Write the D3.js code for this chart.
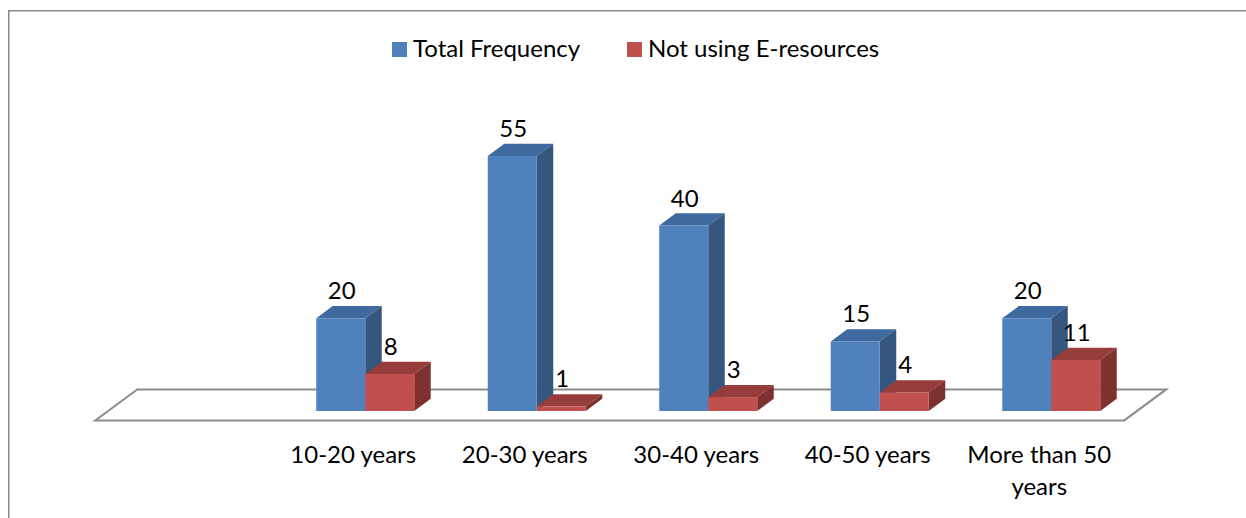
<!DOCTYPE html>
<html>
<head>
<meta charset="utf-8">
<script src="https://cdn.jsdelivr.net/npm/d3@7"></script>
<style>
  body { margin: 0; background: #fff; }
  text { font-family: Lato, "Noto Sans", sans-serif; fill: #000; }
</style>
</head>
<body>
<div id="chart"></div>
<script>
// data
var categories = ["10-20 years", "20-30 years", "30-40 years", "40-50 years", "More than 50 years"];
var seriesNames = ["Total Frequency", "Not using E-resources"];
var totalFrequency = [20, 55, 40, 15, 20];
var notUsing = [8, 1, 3, 4, 11];

var svgWidth = 1246;
var svgHeight = 518;
var fontSize = "24px";

// colours: front, top, side
var faces = [
    { front: "#4F81BD", top: "#3E6A9F", side: "#35577F" },
    { front: "#C0504D", top: "#963C3A", side: "#7E3230" }
];

var svg = d3.select("#chart")
    .append("svg")
    .attr("width", svgWidth)
    .attr("height", svgHeight);

// outer border
svg.append("rect")
    .attr("x", 8.75)
    .attr("y", 10.75)
    .attr("width", 1240)
    .attr("height", 520)
    .attr("fill", "none")
    .attr("stroke", "#898989")
    .attr("stroke-width", 1.5);

var baseY = 411;          // front bottom of bars
var depth = { dx: 16.5, dy: -12.2 };     // bar depth
var floorDepth = { dx: 42, dy: -31 };    // floor depth

var x0 = d3.scaleBand()
    .domain(categories)
    .range([279.5, 1137])
    .padding(0);

var x1 = d3.scaleBand()
    .domain(seriesNames)
    .range([0, x0.bandwidth()])
    .paddingInner(0)
    .paddingOuter(0.75);

var y = d3.scaleLinear()
    .domain([0, 55])
    .range([baseY, baseY - 255]);

// floor (one empty slot on the left like the original)
var setX = (floorDepth.dx - depth.dx) / 2;
var setY = (floorDepth.dy - depth.dy) / 2;
var fl = x0.range()[0] - x0.step() - setX;
var fr = x0.range()[1] - setX;
var fy = baseY - setY;
svg.append("path")
    .attr("d", `M${fl},${fy} L${fr},${fy} L${fr + floorDepth.dx},${fy + floorDepth.dy} L${fl + floorDepth.dx},${fy + floorDepth.dy} Z`)
    .attr("fill", "#fff")
    .attr("stroke", "#8c8c8c")
    .attr("stroke-width", 2);

var series = [totalFrequency, notUsing];

categories.forEach(function(cat, i) {
    series.forEach(function(vals, s) {
        var v = vals[i];
        var xl = x0(cat) + x1(seriesNames[s]);
        var w = x1.bandwidth();
        var yt = y(v);
        var g = svg.append("g");
        // top face
        g.append("path")
            .attr("d", `M${xl},${yt} L${xl + depth.dx},${yt + depth.dy} L${xl + w + depth.dx},${yt + depth.dy} L${xl + w},${yt} Z`)
            .attr("fill", faces[s].top);
        // side face
        g.append("path")
            .attr("d", `M${xl + w},${yt} L${xl + w + depth.dx},${yt + depth.dy} L${xl + w + depth.dx},${baseY + depth.dy} L${xl + w},${baseY} Z`)
            .attr("fill", faces[s].side);
        // front face
        g.append("rect")
            .attr("x", xl)
            .attr("y", yt)
            .attr("width", w)
            .attr("height", baseY - yt)
            .attr("fill", faces[s].front);
    });
});

// value labels drawn after the bars
categories.forEach(function(cat, i) {
    series.forEach(function(vals, s) {
        svg.append("text")
            .attr("x", x0(cat) + x1(seriesNames[s]) + x1.bandwidth() / 2 + 1)
            .attr("y", y(vals[i]) - 19)
            .attr("text-anchor", "middle")
            .style("font-size", fontSize)
            .text(vals[i]);
    });
});

// category labels
function wrap(textSel, maxWidth) {
    textSel.each(function() {
        var t = d3.select(this);
        var words = t.text().split(" ");
        var xPos = t.attr("x");
        t.text(null);
        var line = [];
        var tspan = t.append("tspan").attr("x", xPos).attr("dy", 0);
        words.forEach(function(word) {
            line.push(word);
            tspan.text(line.join(" "));
            if (tspan.node().getComputedTextLength() > maxWidth && line.length > 1) {
                line.pop();
                tspan.text(line.join(" "));
                line = [word];
                tspan = t.append("tspan").attr("x", xPos).attr("dy", 32).text(word);
            }
        });
    });
}

svg.selectAll("text.catLabel")
    .data(categories)
    .enter()
    .append("text")
    .attr("class", "catLabel")
    .attr("x", d => x0(d) + x0.bandwidth() / 2 - 12)
    .attr("y", 463)
    .attr("text-anchor", "middle")
    .style("font-size", fontSize)
    .text(d => d)
    .call(wrap, 165);

// legend
var legendPos = [392, 627];
var legend = svg.selectAll("g.legend")
    .data(seriesNames)
    .enter()
    .append("g")
    .attr("class", "legend")
    .attr("transform", (d, i) => `translate(${legendPos[i]}, 42)`);

legend.append("rect")
    .attr("width", 15)
    .attr("height", 15)
    .attr("fill", (d, i) => faces[i].front);

legend.append("text")
    .attr("x", 21)
    .attr("y", 15)
    .style("font-size", fontSize)
    .text(d => d);
</script>
</body>
</html>
